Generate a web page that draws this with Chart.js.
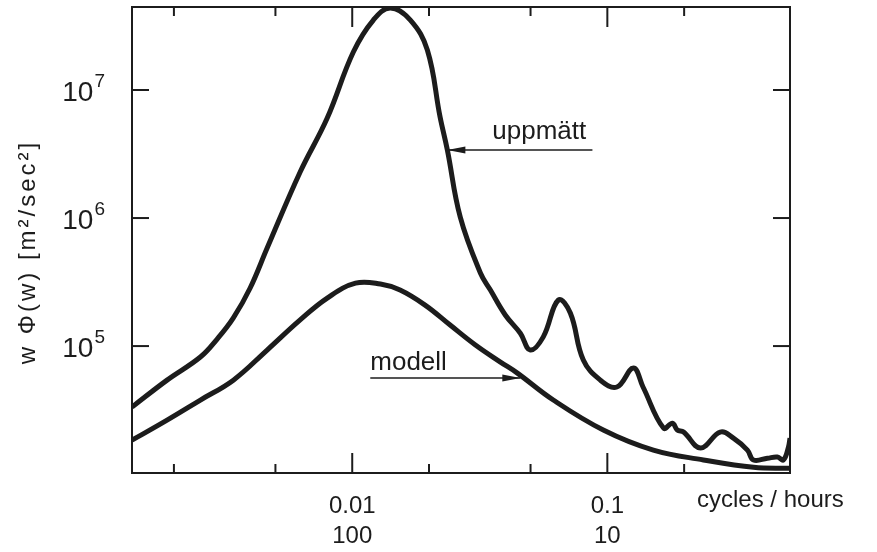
<!DOCTYPE html>
<html>
<head>
<meta charset="utf-8">
<script src="https://cdn.jsdelivr.net/npm/chart.js@4.4.0/dist/chart.umd.min.js"></script>
<style>
  body { margin: 0; background: #fff; }
</style>
</head>
<body>
<canvas id="spectrumChart" width="877" height="552"></canvas>
<script>
// measured spectrum ("uppmätt") - frequency in cycles/hour, value w*Phi(w)
const measuredFreq = [0.00137, 0.00188, 0.00254, 0.00295, 0.00342, 0.00398, 0.00464, 0.00625, 0.00798,
  0.0101, 0.0121, 0.0141, 0.0169, 0.0197, 0.0221, 0.0236, 0.0265, 0.0318, 0.0348, 0.0398,
  0.0456, 0.0499, 0.0561, 0.0643, 0.0716, 0.0805, 0.0939, 0.109, 0.1265, 0.138, 0.166,
  0.180, 0.188, 0.199, 0.232, 0.277, 0.312, 0.354, 0.374, 0.424, 0.464, 0.490, 0.513, 0.52];
const measuredValue = [3.34e4, 5.42e4, 8.21e4, 1.13e5, 1.66e5, 2.84e5, 5.83e5, 2.29e6, 6.04e6,
  1.98e7, 3.52e7, 4.37e7, 3.52e7, 2.05e7, 6.15e6, 3.40e6, 1.02e6, 3.72e5, 2.74e5, 1.75e5,
  1.26e5, 9.31e4, 1.18e5, 2.29e5, 1.81e5, 7.78e4, 5.42e4, 4.79e4, 6.74e4, 4.79e4, 2.29e4,
  2.50e4, 2.21e4, 2.13e4, 1.60e4, 2.13e4, 1.91e4, 1.54e4, 1.29e4, 1.33e4, 1.36e4, 1.29e4, 1.63e4, 1.91e4];

// model spectrum ("modell")
const modelFreq = [0.00137, 0.00188, 0.00254, 0.00342, 0.00464, 0.00625, 0.00798, 0.0103,
  0.0129, 0.0154, 0.0193, 0.0242, 0.0304, 0.0381, 0.0444, 0.0614, 0.0964, 0.1515, 0.238, 0.374, 0.52];
const modelValue = [1.84e4, 2.64e4, 3.79e4, 5.42e4, 9.31e4, 1.60e5, 2.37e5, 3.10e5,
  3.05e5, 2.74e5, 2.09e5, 1.46e5, 1.02e5, 7.50e4, 6.15e4, 3.79e4, 2.21e4, 1.54e4, 1.29e4, 1.13e4, 1.11e4];

const xTickValues = [0.002, 0.005, 0.01, 0.02, 0.05, 0.1, 0.2];
const xMajorTicks = [0.01, 0.1];
const xTickLabels = { 0.01: ['0.01', '100'], 0.1: ['0.1', '10'] };
const yTickValues = [1e5, 1e6, 1e7];
const yTickExponents = ['5', '6', '7'];

const FONT = "'Liberation Sans', Arial, sans-serif";
const INK = '#1c1c1c';

const toPoints = (xs, ys) => xs.map((x, i) => ({ x: x, y: ys[i] }));

// frame, inward ticks, y labels with superscripts and the hand lettered notes
const frameAndNotes = {
  id: 'frameAndNotes',
  afterDraw(chart) {
    const { ctx, chartArea: a, scales: { x, y } } = chart;
    ctx.save();
    ctx.strokeStyle = INK;
    ctx.fillStyle = INK;
    ctx.lineWidth = 2;
    ctx.strokeRect(a.left, a.top, a.right - a.left, a.bottom - a.top);

    const seg = (x1, y1, x2, y2) => {
      ctx.beginPath(); ctx.moveTo(x1, y1); ctx.lineTo(x2, y2); ctx.stroke();
    };
    xTickValues.forEach(v => {
      const px = x.getPixelForValue(v);
      const len = xMajorTicks.includes(v) ? 20 : 9;
      seg(px, a.bottom, px, a.bottom - len);
      seg(px, a.top, px, a.top + len);
    });

    ctx.textBaseline = 'alphabetic';
    yTickValues.forEach((v, i) => {
      const py = y.getPixelForValue(v);
      seg(a.left, py, a.left + 17, py);
      seg(a.right, py, a.right - 17, py);
      // "10" with raised exponent
      ctx.textAlign = 'right';
      ctx.font = '19px ' + FONT;
      const expW = ctx.measureText(yTickExponents[i]).width;
      ctx.fillText(yTickExponents[i], a.left - 27, py - 3);
      ctx.font = '28px ' + FONT;
      ctx.fillText('10', a.left - 28 - expW, py + 11);
    });

    // y axis title, rotated
    ctx.save();
    ctx.translate(28, (a.top + a.bottom) / 2 + 12);
    ctx.rotate(-Math.PI / 2);
    ctx.textAlign = 'center';
    ctx.textBaseline = 'middle';
    ctx.font = '24px ' + FONT;
    ctx.letterSpacing = '3px';
    ctx.fillText('w Φ(w) [m²/sec²]', 0, 0);
    ctx.restore();

    ctx.textAlign = 'left';
    ctx.textBaseline = 'alphabetic';
    ctx.font = '24px ' + FONT;
    ctx.fillText('cycles / hours', a.right - 93, a.bottom + 34);

    const arrow = (x1, x2, yv) => {
      const px1 = x.getPixelForValue(x1), px2 = x.getPixelForValue(x2);
      const py = y.getPixelForValue(yv);
      ctx.lineWidth = 1.5;
      seg(px1, py, px2, py);
      const dir = px2 > px1 ? 1 : -1;
      ctx.beginPath();
      ctx.moveTo(px2, py);
      ctx.lineTo(px2 - dir * 18, py - 3.5);
      ctx.lineTo(px2 - dir * 18, py + 3.5);
      ctx.closePath();
      ctx.fill();
      return { px1, px2, py };
    };

    ctx.font = '26px ' + FONT;
    const up = arrow(0.0874, 0.0236, 3.4e6);
    ctx.fillText('uppmätt', x.getPixelForValue(0.0354), up.py - 11);
    const mo = arrow(0.01177, 0.0456, 5.62e4);
    ctx.fillText('modell', mo.px1, mo.py - 8);
    ctx.restore();
  }
};

new Chart(document.getElementById('spectrumChart'), {
  type: 'scatter',
  data: {
    datasets: [
      {
        label: 'uppmätt',
        data: toPoints(measuredFreq, measuredValue),
        showLine: true,
        borderColor: INK,
        borderWidth: 5,
        pointRadius: 0,
        tension: 0.4
      },
      {
        label: 'modell',
        data: toPoints(modelFreq, modelValue),
        showLine: true,
        borderColor: INK,
        borderWidth: 5,
        pointRadius: 0,
        tension: 0.4
      }
    ]
  },
  options: {
    responsive: false,
    animation: false,
    layout: { padding: { top: 7, right: 87, left: 0, bottom: 0 } },
    plugins: { legend: { display: false }, tooltip: { enabled: false } },
    scales: {
      x: {
        type: 'logarithmic',
        min: 0.00137,
        max: 0.52,
        grid: { display: false },
        border: { display: false },
        afterBuildTicks: s => { s.ticks = xTickValues.map(v => ({ value: v })); },
        afterFit: s => { s.height = 79; s.paddingLeft = 0; s.paddingRight = 0; },
        ticks: {
          autoSkip: false,
          maxRotation: 0,
          padding: 10,
          color: INK,
          font: { family: FONT, size: 24, lineHeight: 1.25 },
          callback: v => xTickLabels[v] || ''
        }
      },
      y: {
        type: 'logarithmic',
        min: 1.02e4,
        max: 4.45e7,
        grid: { display: false },
        border: { display: false },
        afterBuildTicks: s => { s.ticks = yTickValues.map(v => ({ value: v })); },
        afterFit: s => { s.width = 132; s.paddingTop = 0; s.paddingBottom = 0; },
        ticks: { display: false }
      }
    }
  },
  plugins: [frameAndNotes]
});
</script>
</body>
</html>
